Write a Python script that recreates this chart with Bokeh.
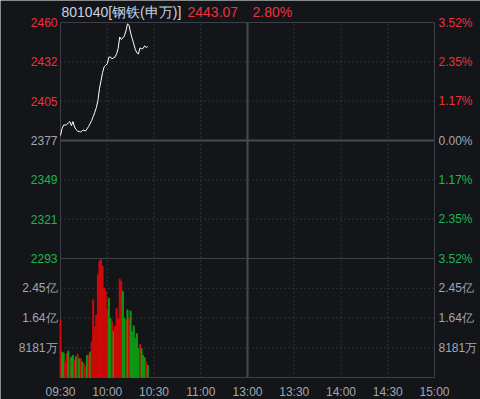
from bokeh.plotting import figure
from bokeh.models import Range1d, ColumnDataSource
from bokeh.core.properties import value
from bokeh.embed import file_html
from bokeh.resources import INLINE

# ---------------- data ----------------
code_name = "801040[钢铁(申万)]"
last_price = "2443.07"
last_pct = "2.80%"
pre_close = 2376.53
max_pct = 3.52

minutes = list(range(57))
prices = [2380.1, 2385.0, 2387.5, 2387.5, 2387.8, 2388.9, 2389.9, 2387.1, 2389.9, 2386.1,
          2384.3, 2383.2, 2382.9, 2382.5, 2383.6, 2383.9, 2383.2, 2384.7, 2386.4, 2388.5,
          2390.7, 2393.5, 2396.6, 2399.8, 2404.8, 2413.2, 2418.9, 2424.7, 2428.8, 2429.8,
          2430.9, 2435.5, 2435.8, 2434.4, 2435.1, 2435.8, 2437.9, 2441.8, 2449.9, 2448.2,
          2449.2, 2450.7, 2454.2, 2459.3, 2458.1, 2452.8, 2448.9, 2445.0, 2441.1, 2438.7,
          2437.9, 2442.2, 2441.5, 2441.8, 2443.6, 2442.5, 2443.07]

volumes = [15806, 7025, 6747, 4437, 6563, 7302, 5176, 5638, 6100, 4800,
           5823, 6378, 5176, 5176, 4252, 3790, 2865, 6100, 6100, 7025,
           9798, 21352, 13957, 17193, 28285, 31983, 32445, 30596, 24587, 23663,
           18764, 21814, 16268, 15344, 12800, 14142, 19041, 16268, 27083, 26436,
           23663, 16268, 15806, 18579, 16268, 18302, 12571, 14200, 10722, 12109,
           7950, 9151, 7950, 6100, 5454, 4252, 3328]
vol_up = [1, 0, 0, 1, 1, 0, 1, 0, 0, 1,
          0, 1, 0, 1, 0, 1, 1, 0, 1, 0,
          1, 1, 1, 1, 1, 1, 1, 1, 1, 1,
          1, 0, 0, 1, 0, 1, 1, 1, 1, 1,
          0, 0, 1, 0, 1, 0, 0, 0, 0, 0,
          0, 1, 0, 0, 0, 1, 0]

price_labels = ["2460", "2432", "2405", "2377", "2349", "2321", "2293"]
pct_labels = ["3.52%", "2.35%", "1.17%", "0.00%", "1.17%", "2.35%", "3.52%"]
price_steps = [3, 2, 1, 0, -1, -2, -3]
vol_unit = 8181
vol_labels = ["2.45亿", "1.64亿", "8181万"]
vol_steps = [3, 2, 1]
time_pos = [0, 30, 60, 90, 120, 150, 180, 210, 240]
time_labels = ["09:30", "10:00", "10:30", "11:00", "13:00", "13:30", "14:00", "14:30", "15:00"]

# ---------------- style ----------------
BG = "#131519"
EDGE = "#3d4046"
MID = "#474a50"
GRID = "#4a4e56"
RED_T = "#ee3140"
GREEN_T = "#1fb552"
GREY_T = "#a2a7b0"
TITLE_C = "#c8d2e2"
BAR_R = "#d30a0a"
BAR_G = "#0e9c14"
FONT = "Liberation Sans"

# pixel layout of the chart inside the 480x399 canvas
W, H = 480, 399
X0, X1 = 60, 434          # plot left / right
Y_TOP, Y_MID, Y_DIV, Y_BOT = 22, 140, 258, 377

k = (X1 - X0) / 240.0                      # px per minute
d = pre_close * max_pct / 100.0
s = d / (Y_MID - Y_TOP)                    # price per px
u = 4 * vol_unit / (Y_BOT - Y_DIV)         # volume per px

p = figure(width=W, height=H, output_backend="svg", toolbar_location=None,
           x_range=Range1d(-X0 / k, (W - X0) / k),
           y_range=Range1d(pre_close - (H - Y_MID) * s, pre_close + Y_MID * s),
           x_axis_location=None, y_axis_location=None,
           min_border=0, background_fill_color=BG, border_fill_color=BG, outline_line_color=None)
p.extra_y_ranges = {"vol": Range1d(-(H - Y_BOT) * u, Y_BOT * u)}
p.xgrid.grid_line_color = None
p.ygrid.grid_line_color = None

p_top = pre_close + d
p_div = pre_close - d
p_bot = pre_close - (Y_BOT - Y_MID) * s

# dotted grid lines
hg = [pre_close + d * st / 3 for st in (2, 1, -1, -2)]
p.segment(x0=[0] * 4, x1=[240] * 4, y0=hg, y1=hg, line_color=GRID, line_dash="1 3", line_width=1)
vg = [vol_unit * st for st in vol_steps]
p.segment(x0=[0] * 3, x1=[240] * 3, y0=vg, y1=vg, line_color=GRID, line_dash="1 3", line_width=1,
          y_range_name="vol")
vx = [30, 60, 90, 150, 180, 210]
p.segment(x0=vx, x1=vx, y0=[p_bot] * 6, y1=[p_top] * 6, line_color=GRID, line_dash="1 3", line_width=1)

# solid lines
p.segment(x0=[0], x1=[240], y0=[pre_close], y1=[pre_close], line_color=MID, line_width=2)
p.segment(x0=[0], x1=[240], y0=[p_div], y1=[p_div], line_color=EDGE, line_width=1)
p.segment(x0=[120], x1=[120], y0=[p_bot], y1=[p_top], line_color=MID, line_width=2)
p.quad(left=[0], right=[240], bottom=[p_bot], top=[p_top], fill_color=None, line_color=EDGE, line_width=1)

# volume bars
vsrc = ColumnDataSource(dict(x=minutes, v=volumes, c=[BAR_R if up else BAR_G for up in vol_up]))
p.vbar(x="x", top="v", bottom=0, width=0.62, color="c", y_range_name="vol", source=vsrc)

# price line
p.line(minutes, prices, line_color="white", line_width=1)

# price labels
py = [pre_close + d * st / 3 for st in price_steps]
pc = [RED_T if st > 0 else (GREY_T if st == 0 else GREEN_T) for st in price_steps]
p.text(x=[0] * 7, y=py, text=price_labels, text_color=pc, text_align="right", text_baseline="middle",
       x_offset=-3, text_font=value(FONT), text_font_size="12px")
p.text(x=[240] * 7, y=py, text=pct_labels, text_color=pc, text_align="left", text_baseline="middle",
       x_offset=4, text_font=value(FONT), text_font_size="12px")

# volume labels
vy = [vol_unit * st for st in vol_steps]
p.text(x=[0] * 3, y=vy, text=vol_labels, text_color=GREY_T, text_align="right", text_baseline="middle",
       x_offset=-3, text_font=value(FONT), text_font_size="12px", y_range_name="vol")
p.text(x=[240] * 3, y=vy, text=vol_labels, text_color=GREY_T, text_align="left", text_baseline="middle",
       x_offset=4, text_font=value(FONT), text_font_size="12px", y_range_name="vol")

# time labels
ty = -(391 - Y_BOT) * u
p.text(x=time_pos, y=[ty] * len(time_pos), text=time_labels, text_color=GREY_T, text_align="center",
       text_baseline="middle", text_font=value(FONT), text_font_size="12px", y_range_name="vol")

# title
title_y = pre_close + (Y_MID - 11) * s
p.text(x=[0, 0, 0], y=[title_y] * 3, text=[code_name, last_price, last_pct],
       text_color=[TITLE_C, RED_T, RED_T], x_offset=[1, 127, 192], text_align="left",
       text_baseline="middle", text_font=value(FONT), text_font_size="14px")

open("out.html", "w").write(file_html(p, INLINE))
